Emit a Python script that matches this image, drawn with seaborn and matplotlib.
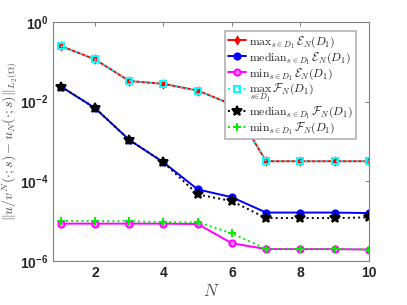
import matplotlib
matplotlib.use("Agg")
import matplotlib.pyplot as plt
import seaborn as sns
import pandas as pd

# ---------------------------------------------------------------------------
# DATA
# ---------------------------------------------------------------------------
N = [1, 2, 3, 4, 5, 6, 7, 8, 9, 10]

max_E = [0.25, 0.115, 0.033, 0.028, 0.019, 0.0085, 3.2e-4, 3.2e-4, 3.2e-4, 3.2e-4]
median_E = [0.024, 0.0069, 0.0011, 3.0e-4, 6.3e-5, 4.0e-5, 1.65e-5, 1.65e-5, 1.65e-5, 1.6e-5]
min_E = [8.7e-6, 8.7e-6, 8.7e-6, 8.7e-6, 8.5e-6, 2.8e-6, 2.0e-6, 2.0e-6, 2.0e-6, 1.95e-6]
max_F = [0.25, 0.115, 0.033, 0.028, 0.019, 0.0085, 3.2e-4, 3.2e-4, 3.2e-4, 3.2e-4]
median_F = [0.024, 0.0069, 0.0011, 3.0e-4, 4.7e-5, 3.2e-5, 1.2e-5, 1.2e-5, 1.2e-5, 1.25e-5]
min_F = [1.02e-5, 1.0e-5, 1.0e-5, 9.5e-6, 9.4e-6, 5.0e-6, 2.0e-6, 2.0e-6, 2.0e-6, 1.95e-6]

labels = [
    r"$\mathrm{max}_{s\in D_1}\,\mathcal{E}_N(D_1)$",
    r"$\mathrm{median}_{s\in D_1}\,\mathcal{E}_N(D_1)$",
    r"$\mathrm{min}_{s\in D_1}\,\mathcal{E}_N(D_1)$",
    r"$\max_{s\in D_1}\,\mathcal{F}_N(D_1)$",
    r"$\mathrm{median}_{s\in D_1}\,\mathcal{F}_N(D_1)$",
    r"$\mathrm{min}_{s\in D_1}\,\mathcal{F}_N(D_1)$",
]
series = [max_E, median_E, min_E, max_F, median_F, min_F]

# ---------------------------------------------------------------------------
# STYLE per series (MATLAB-like)
# ---------------------------------------------------------------------------
styles = [
    dict(color="red", linestyle="-", marker="d", markersize=3.5,
         markeredgecolor="red", markerfacecolor="red"),
    dict(color="blue", linestyle="-", marker="o", markersize=4.5,
         markeredgecolor="blue", markerfacecolor="blue"),
    dict(color="magenta", linestyle="-", marker="o", markersize=4.5,
         markeredgecolor="magenta", markerfacecolor="#ff80ff"),
    dict(color="cyan", linestyle=":", marker="s", markersize=4.5,
         markeredgecolor="cyan", markerfacecolor="none"),
    dict(color="black", linestyle=":", marker="*", markersize=7,
         markeredgecolor="black", markerfacecolor="black"),
    dict(color="#00ee00", linestyle=":", marker="+", markersize=5.5,
         markeredgecolor="#00ee00"),
]

sns.set_style("white")
plt.rcParams["mathtext.fontset"] = "cm"
plt.rcParams["font.family"] = ["Liberation Sans", "DejaVu Sans"]

fig = plt.figure(figsize=(4.07, 3.05), dpi=100)
ax = fig.add_axes([0.131, 0.144, 0.775, 0.784])

for vals, lab, st in zip(series, labels, styles):
    df = pd.DataFrame({"N": N, "err": vals})
    sns.lineplot(data=df, x="N", y="err", ax=ax, label=lab, linewidth=1.4,
                 markeredgewidth=1.4, **st)

ax.set_yscale("log")
ax.set_ylim(1e-6, 1e0)
ax.set_xlim(0.78, 10)
ax.set_xticks([2, 4, 6, 8, 10])
ax.set_yticks([1e-6, 1e-4, 1e-2, 1e0])
ax.minorticks_off()
ax.tick_params(direction="in", top=True, right=True, length=3, width=0.6,
               colors="0.4", labelcolor="0.15", labelsize=10)
for lbl in ax.get_xticklabels() + ax.get_yticklabels():
    lbl.set_fontweight("bold")
for sp in ax.spines.values():
    sp.set_color("0.5")
    sp.set_linewidth(0.8)

ax.set_xlabel(r"$N$", fontsize=12, color="0.3", labelpad=2)
ax.set_ylabel(r"$\|u/v^N(\cdot;s)-u_N(\cdot;s)\|_{L_2(\Omega)}$", fontsize=10,
              color="0.3", labelpad=0)

leg = ax.legend(loc="upper right", bbox_to_anchor=(0.968, 0.972), fontsize=8.5,
                handlelength=1.5, handletextpad=0.3, labelspacing=0.02,
                borderpad=0.25, borderaxespad=0.2, fancybox=False, framealpha=1)
leg.get_frame().set_edgecolor("0.7")
leg.get_frame().set_linewidth(1.2)

fig.savefig("out.png", dpi=100)
